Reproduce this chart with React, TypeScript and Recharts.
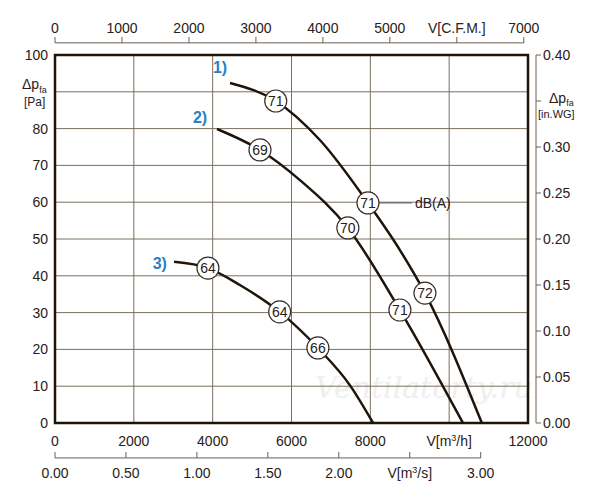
import React from "react";
import {
  ComposedChart,
  Line,
  Scatter,
  XAxis,
  YAxis,
  CartesianGrid,
  ReferenceLine,
  ReferenceArea,
} from "recharts";

// curve points: q = m3/h, p = Pa
const curve1 = [
  { q: 4440, p: 92.4 },
  { q: 5600, p: 87.5 },
  { q: 6720, p: 76.9 },
  { q: 7940, p: 59.8 },
  { q: 8750, p: 47 },
  { q: 9385, p: 35.3 },
  { q: 10830, p: 0 },
];
const curve2 = [
  { q: 4110, p: 79.9 },
  { q: 5200, p: 74.2 },
  { q: 6215, p: 66 },
  { q: 7430, p: 53 },
  { q: 8750, p: 30.7 },
  { q: 10350, p: 0 },
];
const curve3 = [
  { q: 3020, p: 43.8 },
  { q: 3880, p: 42.1 },
  { q: 4690, p: 37.5 },
  { q: 5700, p: 30.2 },
  { q: 6670, p: 20.4 },
  { q: 7480, p: 10.3 },
  { q: 8070, p: 0 },
];
const noiseLabels = [
  { q: 5600, p: 87.5, db: "71" },
  { q: 7940, p: 59.8, db: "71", unit: "dB(A)" },
  { q: 9385, p: 35.3, db: "72" },
  { q: 5200, p: 74.2, db: "69" },
  { q: 7430, p: 53, db: "70" },
  { q: 8750, p: 30.7, db: "71" },
  { q: 3880, p: 42.1, db: "64" },
  { q: 5700, p: 30.2, db: "64" },
  { q: 6670, p: 20.4, db: "66" },
];
const curveNames = [
  { q: 4186, p: 96.7, name: "1)" },
  { q: 3680, p: 83.2, name: "2)" },
  { q: 2660, p: 43.5, name: "3)" },
];
const m3hTicks = [0, 2000, 4000, 6000, 8000, 10000, 12000];
const paTicks = [0, 10, 20, 30, 40, 50, 60, 70, 80, 90, 100];
const cfmTicks = [0, 1000, 2000, 3000, 4000, 5000, 6000, 7000];
const m3sTicks = [0, 0.5, 1, 1.5, 2, 2.5, 3];
const inwgTicks = [0, 0.05, 0.1, 0.15, 0.2, 0.25, 0.3, 0.35, 0.4];
// single anchor point so the secondary axes have a series bound to them
const anchor = [{ q: 0, p: 0 }];

const FONT = "Liberation Sans, Arial, sans-serif";
const TXT = "#2a2018";
const LINE = "#1e1409";

const M3hTick = (props: any) => {
  const v = props.payload.value;
  return (
    <text x={props.x} y={446} textAnchor="middle" fontSize={14} fill={TXT} fontFamily={FONT}>
      {v === 10000 ? (
        <>
          V[m<tspan fontSize={9} dy={-5}>3</tspan>
          <tspan dy={5}>/h]</tspan>
        </>
      ) : (
        v
      )}
    </text>
  );
};

const M3sTick = (props: any) => {
  const v = props.payload.value;
  return (
    <g>
      <line x1={props.x} x2={props.x} y1={452} y2={458} stroke="#6a6054" />
      <text x={props.x} y={478} textAnchor="middle" fontSize={14} fill={TXT} fontFamily={FONT}>
        {v === 2.5 ? (
          <>
            V[m<tspan fontSize={9} dy={-5}>3</tspan>
            <tspan dy={5}>/s]</tspan>
          </>
        ) : (
          v.toFixed(2)
        )}
      </text>
    </g>
  );
};

const CfmTick = (props: any) => {
  const v = props.payload.value;
  return (
    <g>
      <line x1={props.x} x2={props.x} y1={37} y2={43} stroke="#6a6054" />
      <text x={props.x} y={33} textAnchor="middle" fontSize={14} fill={TXT} fontFamily={FONT}>
        {v === 6000 ? "V[C.F.M.]" : v}
      </text>
    </g>
  );
};

const PaTick = (props: any) => {
  const v = props.payload.value;
  if (v === 90)
    return (
      <g fontFamily={FONT} fill={TXT}>
        <text x={22} y={89} fontSize={14}>
          Δp<tspan fontSize={9} dy={4}>fa</tspan>
        </text>
        <text x={24} y={106} fontSize={12}>[Pa]</text>
      </g>
    );
  return (
    <text x={48} y={props.y + 5} textAnchor="end" fontSize={14} fill={TXT} fontFamily={FONT}>
      {v}
    </text>
  );
};

const InwgTick = (props: any) => {
  const v = props.payload.value;
  const mark = <line x1={536} x2={541} y1={props.y} y2={props.y} stroke="#6a6054" />;
  if (v === 0.35)
    return (
      <g fontFamily={FONT} fill={TXT}>
        {mark}
        <text x={549} y={103} fontSize={14}>
          Δp<tspan fontSize={9} dy={3}>fa</tspan>
        </text>
        <text x={538} y={118} fontSize={11}>[in.WG]</text>
      </g>
    );
  return (
    <g>
      {mark}
      <text x={543} y={props.y + 5} fontSize={14} fill={TXT} fontFamily={FONT}>
        {v.toFixed(2)}
      </text>
    </g>
  );
};

const NoiseDot = (props: any) => {
  const { cx, cy, payload } = props;
  return (
    <g fontFamily={FONT}>
      {payload.unit && (
        <>
          <line x1={cx + 11} x2={412} y1={cy} y2={cy} stroke="#555" />
          <text x={415} y={cy + 5} fontSize={14} fill={TXT}>{payload.unit}</text>
        </>
      )}
      <circle cx={cx} cy={cy} r={11} fill="#fff" stroke="#3a3028" strokeWidth={1.2} />
      <text x={cx} y={cy + 5} textAnchor="middle" fontSize={14} fill={TXT}>
        {payload.db}
      </text>
    </g>
  );
};

const NameDot = (props: any) => (
  <text
    x={props.cx}
    y={props.cy + 6}
    textAnchor="middle"
    fontSize={16}
    fontWeight="bold"
    fill="#2a7fc4"
    fontFamily={FONT}
  >
    {props.payload.name}
  </text>
);

const Nothing = () => <g />;

export default function App() {
  return (
    <div style={{ position: "absolute", left: 0, top: 0, width: 600, height: 500, background: "#fff" }}>
      <div
        style={{
          position: "absolute",
          left: 315,
          top: 370,
          fontFamily: "DejaVu Serif, serif",
          fontStyle: "italic",
          fontSize: 30,
          color: "#efefef",
        }}
      >
        Ventilatorty.ru
      </div>
      <ComposedChart
        width={600}
        height={500}
        margin={{ top: 0, right: 0, bottom: 0, left: 0 }}
        style={{ position: "absolute", left: 0, top: 0 }}
      >
        <CartesianGrid xAxisId="m3h" yAxisId="pa" stroke="#7a7060" strokeWidth={1} />
        <XAxis
          xAxisId="m3h"
          type="number"
          dataKey="q"
          domain={[0, 12000]}
          ticks={m3hTicks}
          height={30}
          axisLine={false}
          tickLine={false}
          tick={<M3hTick />}
          allowDataOverflow
        />
        <XAxis
          xAxisId="m3s"
          type="number"
          dataKey="q"
          domain={[0, 12000 / 3600]}
          ticks={m3sTicks}
          height={47}
          axisLine={false}
          tickLine={false}
          tick={<M3sTick />}
          allowDataOverflow
        />
        <XAxis
          xAxisId="cfm"
          orientation="top"
          type="number"
          dataKey="q"
          domain={[0, 12000 / 1.699]}
          ticks={cfmTicks}
          height={55}
          axisLine={false}
          tickLine={false}
          tick={<CfmTick />}
          allowDataOverflow
        />
        <YAxis
          yAxisId="pa"
          type="number"
          domain={[0, 100]}
          ticks={paTicks}
          width={55}
          axisLine={false}
          tickLine={false}
          tick={<PaTick />}
        />
        <YAxis
          yAxisId="in"
          orientation="right"
          type="number"
          domain={[0, 0.4]}
          ticks={inwgTicks}
          width={72}
          axisLine={false}
          tickLine={false}
          tick={<InwgTick />}
        />
        <Scatter xAxisId="m3s" yAxisId="pa" data={anchor} dataKey="p" shape={<Nothing />} isAnimationActive={false} />
        <Scatter xAxisId="cfm" yAxisId="pa" data={anchor} dataKey="p" shape={<Nothing />} isAnimationActive={false} />
        <Scatter xAxisId="m3h" yAxisId="in" data={anchor} dataKey="p" shape={<Nothing />} isAnimationActive={false} />
        <ReferenceLine
          xAxisId="m3h"
          yAxisId="pa"
          ifOverflow="visible"
          segment={[{ x: 0, y: 103.3 }, { x: 11893, y: 103.3 }]}
          stroke="#6a6054"
        />
        <ReferenceLine
          xAxisId="m3h"
          yAxisId="pa"
          ifOverflow="visible"
          segment={[{ x: 0, y: -9.5 }, { x: 10800, y: -9.5 }]}
          stroke="#6a6054"
        />
        <ReferenceLine
          xAxisId="m3h"
          yAxisId="pa"
          ifOverflow="visible"
          segment={[{ x: 12203, y: 0 }, { x: 12203, y: 100 }]}
          stroke="#6a6054"
        />
        <ReferenceArea
          xAxisId="m3h"
          yAxisId="pa"
          x1={0}
          x2={12000}
          y1={0}
          y2={100}
          fill="none"
          stroke={LINE}
          strokeWidth={2.5}
          fillOpacity={0}
        />
        {[curve1, curve2, curve3].map((c, i) => (
          <Line
            key={i}
            xAxisId="m3h"
            yAxisId="pa"
            data={c}
            dataKey="p"
            type="monotone"
            stroke={LINE}
            strokeWidth={2.5}
            dot={false}
            isAnimationActive={false}
          />
        ))}
        <Scatter
          xAxisId="m3h"
          yAxisId="pa"
          data={noiseLabels}
          dataKey="p"
          shape={<NoiseDot />}
          isAnimationActive={false}
        />
        <Scatter
          xAxisId="m3h"
          yAxisId="pa"
          data={curveNames}
          dataKey="p"
          shape={<NameDot />}
          isAnimationActive={false}
        />
      </ComposedChart>
    </div>
  );
}
